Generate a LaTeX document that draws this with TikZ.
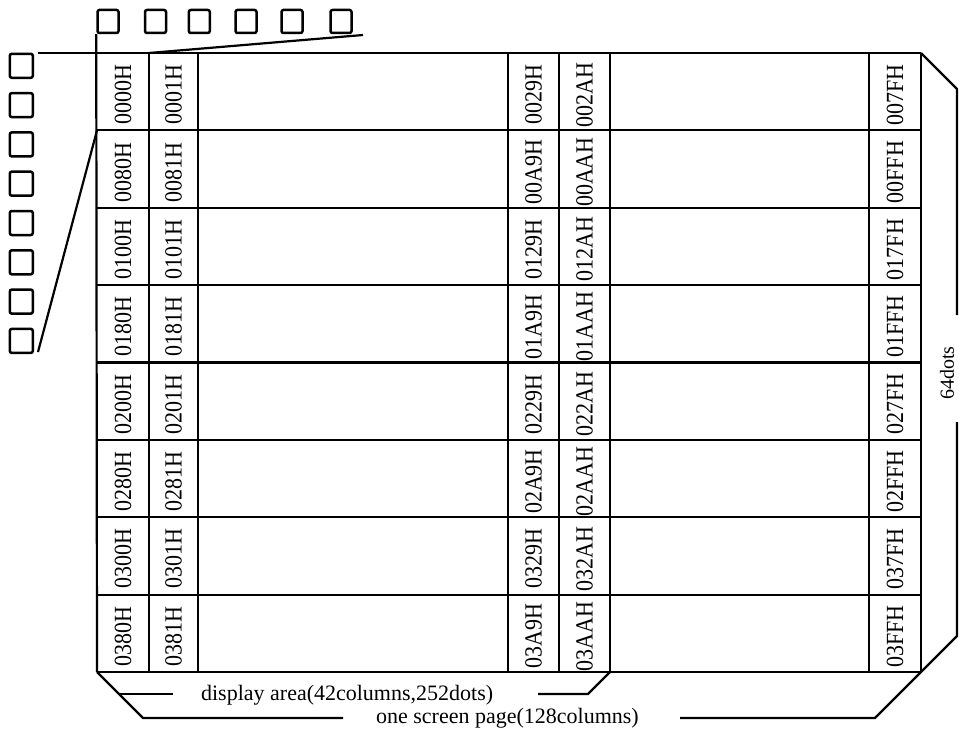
\documentclass[tikz,border=0pt]{standalone}
\usepackage{fontspec}
\setmainfont{Liberation Serif}
\begin{document}
\begin{tikzpicture}[x=1pt,y=-1pt, line width=2.2pt, line join=miter,
  sq/.style={draw, line width=2.5pt, rounded corners=2pt, inner sep=0pt},
  tsq/.style={sq, minimum width=21pt, minimum height=23pt},
  lsq/.style={sq, minimum width=23pt, minimum height=24pt},
  celltxt/.style={rotate=90, yscale=1.12, inner sep=0pt, font=\fontsize{22}{24}\selectfont},
  lbl/.style={inner sep=0pt, anchor=base west, font=\fontsize{22}{24}\selectfont}]
\useasboundingbox (0,0) rectangle (959,733);

% top squares
\foreach \i/\cx in {1/108,2/155.5,3/199.3,4/246,5/292,6/341}
  \node[tsq] (t\i) at (\cx,21.5) {};
% left squares
\foreach \i in {1,...,8}
  \node[lsq] (l\i) at (21.3,{65.8+(\i-1)*39.3}) {};

% grid coordinates
\coordinate (tl) at (97,53);
\coordinate (tr) at (921,53);
\coordinate (bl) at (97,672);
\coordinate (br) at (921,672);
\coordinate (topstart) at (38,53);
\coordinate (sl1) at (149,53);
\coordinate (sl1e) at (363,35);
\coordinate (sl2) at (97,130.4);
\coordinate (sl2e) at (38,352);

% top line and grid
\draw (topstart) -- (tr);
\draw (t1.south west) -- (bl);
\foreach \x in {149,198,508,559,610,869,921}
  \draw (\x,53) -- (\x,672);
\foreach \k in {1,...,8}
  \draw (97,{53+\k*77.375}) -- (921,{53+\k*77.375});

% expansion lines
\draw (sl1) -- (sl1e);
\draw (sl2) -- (sl2e);

% 3D edges / dimension lines
\coordinate (rtop) at (957,89);
\coordinate (rgap1) at (957,315);
\coordinate (rgap2) at (957,422);
\coordinate (rbot) at (957,636);
\coordinate (ospR) at (875,718);
\coordinate (ospRe) at (680,718);
\coordinate (ospL) at (143,718);
\coordinate (ospLe) at (343,718);
\coordinate (daL) at (119,694);
\coordinate (daLe) at (173,694);
\coordinate (daRs) at (538,694);
\coordinate (daR) at (588,694);
\coordinate (daRt) at (610,672);
\draw (tr) -- (rtop) -- (rgap1);
\draw (rgap2) -- (rbot) -- (ospR) -- (ospRe);
\draw (bl) -- (ospL) -- (ospLe);
\draw (daL) -- (daLe);
\draw (daRs) -- (daR) -- (daRt);

% cell texts
\foreach \r/\a/\b/\c/\d/\e in {
  0/0000H/0001H/0029H/002AH/007FH,
  1/0080H/0081H/00A9H/00AAH/00FFH,
  2/0100H/0101H/0129H/012AH/017FH,
  3/0180H/0181H/01A9H/01AAH/01FFH,
  4/0200H/0201H/0229H/022AH/027FH,
  5/0280H/0281H/02A9H/02AAH/02FFH,
  6/0300H/0301H/0329H/032AH/037FH,
  7/0380H/0381H/03A9H/03AAH/03FFH}{
  \pgfmathsetmacro{\cy}{53+(\r+0.5)*77.375+3}
  \node[celltxt] (a\r) at (123,\cy) {\a};
  \node[celltxt] (b\r) at (173.5,\cy) {\b};
  \node[celltxt] (c\r) at (533.5,\cy) {\c};
  \node[celltxt] (d\r) at (584.5,\cy) {\d};
  \node[celltxt] (e\r) at (895,\cy) {\e};
}

% labels
\node[lbl] (da) at (200,700) {display area(42columns,252dots)};
\node[lbl] (osp) at (375,723) {one screen page(128columns)};
\node[rotate=90, inner sep=0pt, font=\fontsize{20}{22}\selectfont] (dots) at (947,373) {64dots};
\end{tikzpicture}
\end{document}
